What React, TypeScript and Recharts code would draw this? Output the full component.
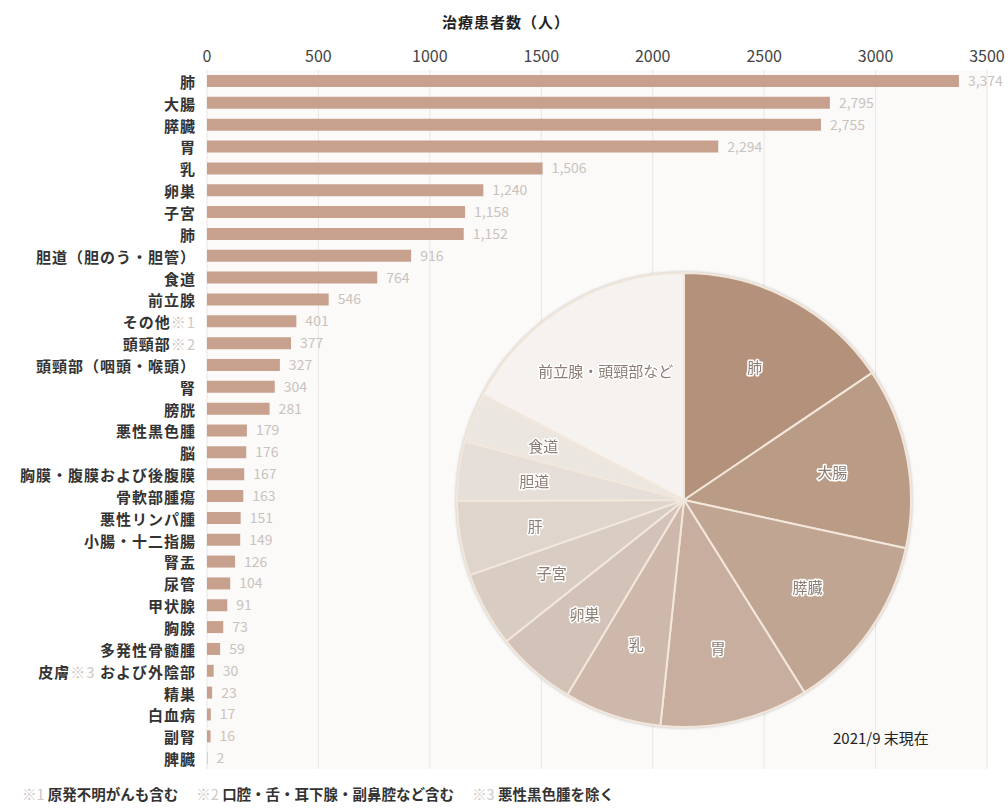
import React from "react";
import { BarChart, Bar, XAxis, YAxis, CartesianGrid, LabelList, PieChart, Pie, Cell } from "recharts";

// 部位別の治療患者数（上から順）
const SITES = [
  "肺", "大腸", "膵臓", "胃", "乳", "卵巣", "子宮", "肺",
  "胆道（胆のう・胆管）", "食道", "前立腺", "その他※1", "頭頸部※2",
  "頭頸部（咽頭・喉頭）", "腎", "膀胱", "悪性黒色腫", "脳",
  "胸膜・腹膜および後腹膜", "骨軟部腫瘍", "悪性リンパ腫", "小腸・十二指腸",
  "腎盂", "尿管", "甲状腺", "胸腺", "多発性骨髄腫", "皮膚※3 および外陰部",
  "精巣", "白血病", "副腎", "脾臓",
];
const PATIENTS = [
  3374, 2795, 2755, 2294, 1506, 1240, 1158, 1152, 916, 764, 546, 401, 377,
  327, 304, 281, 179, 176, 167, 163, 151, 149, 126, 104, 91, 73, 59, 30, 23,
  17, 16, 2,
];
const X_TICKS = [0, 500, 1000, 1500, 2000, 2500, 3000, 3500];

// 円グラフ：上位10部位＋残りをまとめる
const PIE_NAMES = ["肺", "大腸", "膵臓", "胃", "乳", "卵巣", "子宮", "肝", "胆道", "食道", "前立腺・頭頸部など"];
const PIE_COLORS = [
  "#b3917a", "#ba9b86", "#c0a592", "#c7ae9f", "#cdb8ab",
  "#d3c2b7", "#d9ccc2", "#dfd5cd", "#e6ded8", "#ece6e1", "#f5f2ef",
];
const TOP_N = 10;

const NOTES = [
  { mark: "※1", text: "原発不明がんも含む" },
  { mark: "※2", text: "口腔・舌・耳下腺・副鼻腔など含む" },
  { mark: "※3", text: "悪性黒色腫を除く" },
];

const FONT = '"Noto Sans CJK JP", "Noto Sans", sans-serif';
const BAR_COLOR = "#c8a18e";
const MARK_COLOR = "#cfc9c6";

const barData = SITES.map((site, i) => ({ site, value: PATIENTS[i] }));

const pieData = PIE_NAMES.map((name, i) => ({
  name,
  value: i < TOP_N ? PATIENTS[i] : PATIENTS.slice(TOP_N).reduce((a, b) => a + b, 0),
}));

function SiteTick(props: any) {
  const { x, y, payload } = props;
  const parts = String(payload.value).split(/(※\d)/);
  return (
    <text x={x - 3} y={y} textAnchor="end" dominantBaseline="central"
      fontSize={15} fontWeight={700} letterSpacing={1} fill="#333">
      {parts.map((p, i) => (
        <tspan key={i} fill={/^※\d$/.test(p) ? MARK_COLOR : "#333"} fontWeight={/^※\d$/.test(p) ? 400 : 700}>
          {p}
        </tspan>
      ))}
    </text>
  );
}

const RADIAN = Math.PI / 180;

function PieLabel(props: any) {
  const { cx, cy, midAngle, outerRadius, name } = props;
  const r = outerRadius * 0.665;
  const x = cx + r * Math.cos(-midAngle * RADIAN);
  const y = cy + r * Math.sin(-midAngle * RADIAN);
  return (
    <text x={x} y={y} textAnchor="middle" dominantBaseline="central"
      fontSize={15} fill="#8c7d74" stroke="#fff" strokeWidth={3}
      strokeLinejoin="round" style={{ paintOrder: "stroke" }}>
      {name}
    </text>
  );
}

export default function App() {
  return (
    <div style={{ position: "absolute", left: 0, top: 0, width: 1008, height: 812, background: "#fff", fontFamily: FONT }}>
      <div style={{ position: "absolute", left: 442, top: 11, fontSize: 15, fontWeight: 700, letterSpacing: 1, color: "#222" }}>
        治療患者数（人）
      </div>

      <BarChart width={1008} height={812} data={barData} layout="vertical"
        margin={{ top: 40, right: 21, bottom: 43, left: 0 }}>
        <CartesianGrid horizontal={false} stroke="#e9e6e4" fill="#fbfaf9" />
        <XAxis type="number" orientation="top" domain={[0, 3500]} ticks={X_TICKS}
          height={30} axisLine={false} tickLine={false}
          tick={{ fill: "#444", fontSize: 16 }} />
        <YAxis type="category" dataKey="site" width={207} axisLine={false} tickLine={false}
          interval={0} tick={<SiteTick />} />
        <Bar dataKey="value" fill={BAR_COLOR} barSize={12} isAnimationActive={false}>
          <LabelList dataKey="value" position="right" offset={9} fontSize={14} fill="#cac2bd"
            formatter={(v: any) => Number(v).toLocaleString("en-US")} />
        </Bar>
      </BarChart>

      <div style={{ position: "absolute", left: 439, top: 255, filter: "drop-shadow(0 0 1.5px rgba(0,0,0,0.25))" }}>
        <PieChart width={480} height={480}>
          <Pie data={pieData} dataKey="value" nameKey="name" cx={240} cy={240}
            outerRadius={227} startAngle={90} endAngle={-270}
            stroke="#f3e7db" strokeWidth={2} labelLine={false} label={PieLabel}
            isAnimationActive={false}>
            {pieData.map((d, i) => (
              <Cell key={d.name} fill={PIE_COLORS[i]} />
            ))}
          </Pie>
        </PieChart>
      </div>

      <div style={{ position: "absolute", left: 833, top: 727, fontSize: 15, color: "#222" }}>
        2021/9 末現在
      </div>

      <div style={{ position: "absolute", left: 22, top: 783, fontSize: 14.5, whiteSpace: "nowrap" }}>
        {NOTES.map((n) => (
          <span key={n.mark} style={{ marginRight: 18 }}>
            <span style={{ color: MARK_COLOR }}>{n.mark} </span>
            <span style={{ fontWeight: 700, color: "#333" }}>{n.text}</span>
          </span>
        ))}
      </div>
    </div>
  );
}
